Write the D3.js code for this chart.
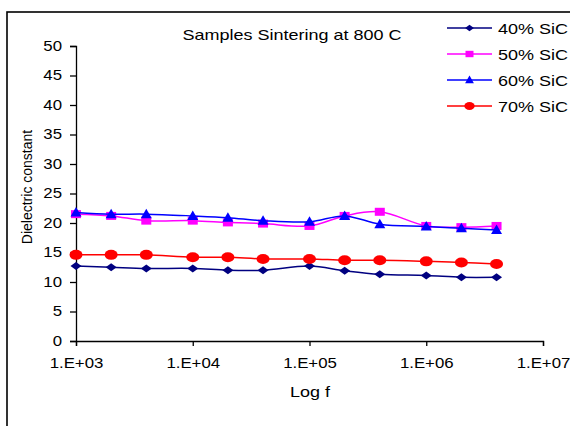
<!DOCTYPE html>
<html>
<head>
<meta charset="utf-8">
<script src="https://cdn.jsdelivr.net/npm/d3@7"></script>
<style>
  body { margin: 0; background: #fff; }
  text { font-family: "Liberation Sans", Arial, sans-serif; fill: #000; }
</style>
</head>
<body>
<div id="chart"></div>
<script>
var svgWidth = 570;
var svgHeight = 426;

// frequencies (Hz) and dielectric constant per SiC content
var freqs = [1e3, 2e3, 4e3, 1e4, 2e4, 4e4, 1e5, 2e5, 4e5, 1e6, 2e6, 4e6];
var sic40 = [12.7, 12.5, 12.3, 12.3, 12.0, 12.0, 12.7, 11.9, 11.3, 11.1, 10.8, 10.8];
var sic50 = [21.5, 21.2, 20.4, 20.4, 20.1, 19.9, 19.5, 21.2, 21.9, 19.5, 19.3, 19.5];
var sic60 = [21.8, 21.5, 21.5, 21.2, 20.9, 20.4, 20.2, 21.2, 19.8, 19.4, 19.1, 18.8];
var sic70 = [14.6, 14.6, 14.6, 14.2, 14.2, 13.9, 13.9, 13.7, 13.7, 13.5, 13.3, 13.05];
var seriesNames = ["40% SiC", "50% SiC", "60% SiC", "70% SiC"];
var xTicks = [1e3, 1e4, 1e5, 1e6, 1e7];
var yTicks = [0, 5, 10, 15, 20, 25, 30, 35, 40, 45, 50];

var series = [
  {name: seriesNames[0], values: sic40, color: "#000080", shape: "diamond"},
  {name: seriesNames[1], values: sic50, color: "#FF00FF", shape: "square"},
  {name: seriesNames[2], values: sic60, color: "#0000FF", shape: "triangle"},
  {name: seriesNames[3], values: sic70, color: "#FF0000", shape: "circle"}
];

// the picture is stretched sideways a bit
var stretch = 1.2;

var svg = d3.select("#chart")
  .append("svg")
  .attr("width", svgWidth)
  .attr("height", svgHeight);

// outer frame
svg.append("rect")
  .attr("x", 7).attr("y", 12)
  .attr("width", 700).attr("height", 600)
  .attr("fill", "none")
  .attr("stroke", "#000")
  .attr("stroke-width", 1.6);

var x = d3.scaleLog().domain([1e3, 1e7]).range([76, 543]);
var y = d3.scaleLinear().domain([0, 50]).range([341, 46]);

var xAxis = d3.axisBottom(x)
  .tickValues(xTicks)
  .tickSize(5)
  .tickPadding(12)
  .tickFormat(d => "1.E+0" + Math.round(Math.log10(d)));

var yAxis = d3.axisLeft(y)
  .tickValues(yTicks)
  .tickSize(6)
  .tickPadding(8);

var gx = svg.append("g")
  .attr("transform", "translate(0," + y(0) + ")")
  .call(xAxis);

var gy = svg.append("g")
  .attr("transform", "translate(" + x(1e3) + ",0)")
  .call(yAxis);

[gx, gy].forEach(function(g) {
  g.select(".domain").attr("stroke", "#000").attr("stroke-width", 1.3);
  g.selectAll(".tick line").attr("stroke", "#000").attr("stroke-width", 1.3);
  g.selectAll(".tick text")
    .attr("font-size", 14)
    .attr("font-family", "Liberation Sans, Arial, sans-serif")
    .attr("fill", "#000")
    .classed("stretch", true);
});

var line = d3.line()
  .x((d, i) => x(freqs[i]))
  .y(d => y(d))
  .curve(d3.curveCatmullRom.alpha(0.5));

function marker(sel, shape, k) {
  if (shape === "circle") {
    sel.append("ellipse").attr("rx", 6.5 * k).attr("ry", 5 * k);
  } else if (shape === "square") {
    sel.append("rect").attr("x", -5 * k).attr("y", -4 * k)
      .attr("width", 10 * k).attr("height", 8 * k);
  } else if (shape === "diamond") {
    sel.append("path").attr("d", "M" + (-5.5 * k) + ",0L0," + (-4 * k) + "L" + (5.5 * k) + ",0L0," + (4 * k) + "Z");
  } else {
    sel.append("path").attr("d", "M0," + (-5.5 * k) + "L" + (5.5 * k) + "," + (4 * k) + "L" + (-5.5 * k) + "," + (4 * k) + "Z");
  }
}

series.forEach(function(s) {
  svg.append("path")
    .datum(s.values)
    .attr("d", line)
    .attr("fill", "none")
    .attr("stroke", s.color)
    .attr("stroke-width", 1.5);

  svg.append("g").selectAll("g")
    .data(s.values)
    .enter()
    .append("g")
    .attr("transform", (d, i) => "translate(" + x(freqs[i]) + "," + y(d) + ")")
    .attr("fill", s.color)
    .each(function() { marker(d3.select(this), s.shape, 1); });
});

// legend
var legend = svg.append("g");
series.forEach(function(s, i) {
  var ly = 28 + i * 26;
  var lg = legend.append("g").attr("transform", "translate(0," + ly + ")");
  lg.append("line")
    .attr("x1", 447).attr("x2", 492)
    .attr("stroke", s.color).attr("stroke-width", 1.5);
  var m = lg.append("g").attr("transform", "translate(469.5,0)").attr("fill", s.color);
  marker(m, s.shape, 0.8);
  lg.append("text")
    .attr("class", "stretch")
    .attr("x", 498).attr("y", 5.5)
    .attr("font-size", 15)
    .text(s.name);
});

svg.append("text")
  .attr("class", "stretch")
  .attr("x", 292).attr("y", 40)
  .attr("text-anchor", "middle")
  .attr("font-size", 15)
  .text("Samples Sintering at 800 C");

svg.append("text")
  .attr("class", "stretch")
  .attr("x", 310).attr("y", 397)
  .attr("text-anchor", "middle")
  .attr("font-size", 15)
  .text("Log f");

svg.append("text")
  .attr("transform", "translate(32,187) rotate(-90)")
  .attr("text-anchor", "middle")
  .attr("font-size", 14)
  .text("Dielectric constant");

// widen horizontal text to match the stretched original
svg.selectAll("text.stretch").each(function() {
  var w = this.getComputedTextLength();
  this.setAttribute("textLength", w * stretch);
  this.setAttribute("lengthAdjust", "spacingAndGlyphs");
});
</script>
</body>
</html>
